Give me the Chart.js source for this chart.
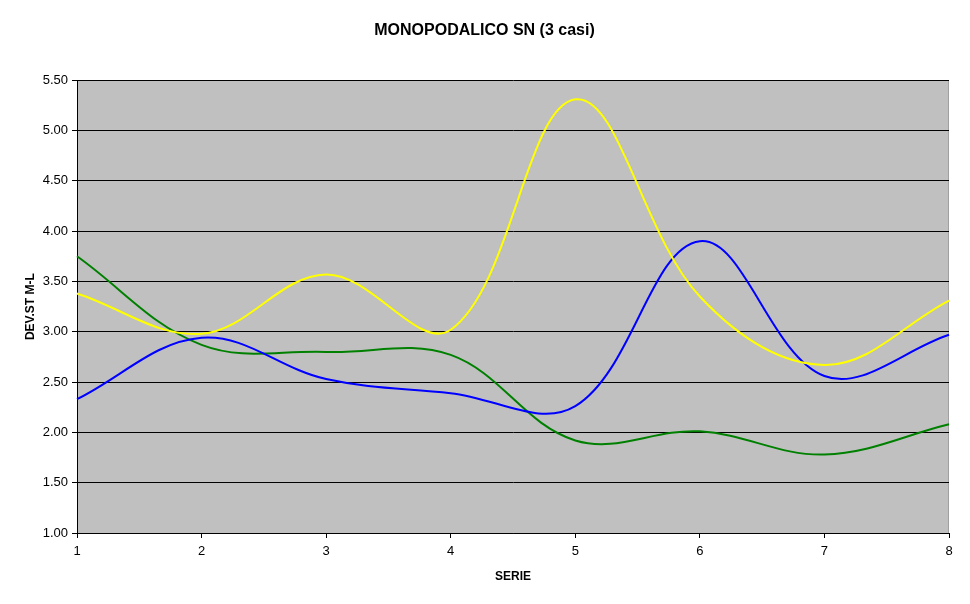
<!DOCTYPE html>
<html>
<head>
<meta charset="utf-8">
<script src="https://cdn.jsdelivr.net/npm/chart.js@4/dist/chart.umd.min.js"></script>
<style>
  html, body { margin: 0; padding: 0; background: #fff; }
  #wrap { width: 970px; height: 604px; }
</style>
</head>
<body>
<div id="wrap"><canvas id="devChart"></canvas></div>
<script>
// data
const serie = ['1', '2', '3', '4', '5', '6', '7', '8'];
const yellowVals = [3.38, 2.98, 3.57, 3.02, 5.31, 3.35, 2.67, 3.31];
const blueVals = [2.33, 2.94, 2.53, 2.39, 2.26, 3.90, 2.56, 2.97];
const greenVals = [3.75, 2.87, 2.80, 2.77, 1.92, 2.01, 1.78, 2.08];
const yTicks = [1.00, 1.50, 2.00, 2.50, 3.00, 3.50, 4.00, 4.50, 5.00, 5.50];

const font = "'Liberation Sans', Arial, sans-serif";

// gray plot background
const plotBg = {
    id: 'plotBg',
    beforeDraw(chart) {
        const a = chart.chartArea;
        const ctx = chart.ctx;
        ctx.save();
        ctx.fillStyle = '#C0C0C0';
        ctx.fillRect(a.left, a.top, a.right - a.left, a.bottom - a.top);
        ctx.strokeStyle = '#A0A0A0';
        ctx.lineWidth = 1;
        ctx.beginPath();
        ctx.moveTo(a.right - 0.5, a.top);
        ctx.lineTo(a.right - 0.5, a.bottom);
        ctx.stroke();
        ctx.restore();
    }
};

const ctx = document.getElementById('devChart').getContext('2d');
let devChart = new Chart(ctx, {
    type: 'line',
    data: {
        labels: serie,
        datasets: [{
            data: yellowVals,
            borderColor: '#FFFF00',
            borderWidth: 2,
            pointRadius: 0,
            fill: false,
            tension: 0.37
        }, {
            data: blueVals,
            borderColor: '#0000FF',
            borderWidth: 2,
            pointRadius: 0,
            fill: false,
            tension: 0.37
        }, {
            data: greenVals,
            borderColor: '#008000',
            borderWidth: 2,
            pointRadius: 0,
            fill: false,
            tension: 0.37
        }]
    },
    options: {
        responsive: true,
        maintainAspectRatio: false,
        animation: false,
        layout: { padding: { left: 20, right: 21, top: 0, bottom: 20 } },
        plugins: {
            legend: { display: false },
            tooltip: { enabled: false },
            title: {
                display: true,
                text: 'MONOPODALICO SN (3 casi)',
                color: '#000',
                font: { family: font, size: 16, weight: 'bold' },
                padding: { top: 21, bottom: 40 }
            }
        },
        scales: {
            x: {
                type: 'category',
                offset: false,
                grid: {
                    display: true,
                    drawOnChartArea: false,
                    drawTicks: true,
                    tickLength: 5,
                    color: '#000'
                },
                border: { display: true, color: '#000', width: 1 },
                ticks: {
                    color: '#000',
                    font: { family: font, size: 13 },
                    padding: 6,
                    maxRotation: 0
                },
                title: {
                    display: true,
                    text: 'SERIE',
                    color: '#000',
                    font: { family: font, size: 12, weight: 'bold' },
                    padding: { top: 4, bottom: 0 }
                },
                afterFit(scale) { scale.height = 51; }
            },
            y: {
                min: 1,
                max: 5.5,
                afterBuildTicks(scale) {
                    scale.ticks = yTicks.map(v => ({ value: v }));
                },
                grid: {
                    display: true,
                    drawOnChartArea: true,
                    tickLength: 5,
                    color: '#000',
                    lineWidth: 1
                },
                border: { display: true, color: '#000', width: 1 },
                ticks: {
                    color: '#000',
                    font: { family: font, size: 13 },
                    padding: 4,
                    callback: v => Number(v).toFixed(2)
                },
                title: {
                    display: true,
                    text: 'DEV.ST M-L',
                    color: '#000',
                    font: { family: font, size: 12, weight: 'bold' },
                    padding: { top: 3, bottom: 4 }
                },
                afterFit(scale) { scale.width = 57; }
            }
        }
    },
    plugins: [plotBg]
});
</script>
</body>
</html>
